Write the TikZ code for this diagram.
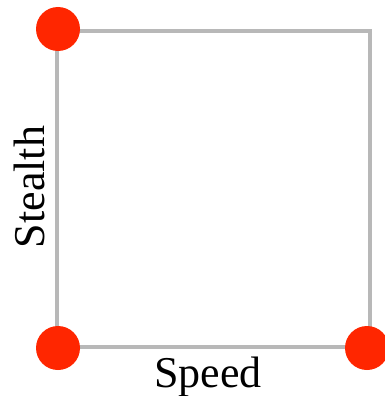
\documentclass[tikz,border=0pt]{standalone}
\usepackage{fontspec}
\setmainfont{Liberation Serif}
\definecolor{markred}{RGB}{255,38,0}
\begin{document}
\begin{tikzpicture}[x=1pt,y=-1pt,
  frame/.style={draw=black!28, line width=4.5pt},
  dot/.style={circle, fill=markred, draw=none, minimum size=44pt, inner sep=0pt},
  axislabel/.style={font=\fontsize{44}{48}\selectfont, inner sep=0pt}]
  \useasboundingbox (0,0) rectangle (385,396);
  % the square
  \coordinate (tl) at (57,31);
  \coordinate (tr) at (370,31);
  \coordinate (br) at (370,347);
  \coordinate (bl) at (57,347);
  \draw[frame] (tl) -- (tr) -- (br) -- (bl) -- cycle;
  % corner markers
  \node[dot] (d1) at (58,29) {};
  \node[dot] (d2) at (58,348) {};
  \node[dot] (d3) at (367,348) {};
  % axis labels
  \node[axislabel, anchor=base] (speed) at (208,387) {Speed};
  \node[axislabel, rotate=90, anchor=base] (stealth) at (44,187) {Stealth};
\end{tikzpicture}
\end{document}
